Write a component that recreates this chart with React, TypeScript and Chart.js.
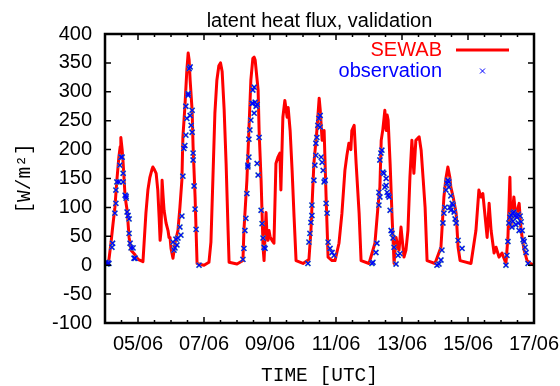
import { useEffect, useRef } from 'react';
import { Chart, registerables } from 'chart.js';

Chart.register(...registerables);

const TITLE = 'latent heat flux, validation';
const X_TITLE = 'TIME [UTC]';
const Y_TITLE = '[W/m²]';
const SERIES_MODEL = 'SEWAB';
const SERIES_OBS = 'observation';

// x axis: day of June
const X_MIN = 4;
const X_MAX = 17;
const xTickDays = [5, 7, 9, 11, 13, 15, 17];
const xTickLabels = ['05/06', '07/06', '09/06', '11/06', '13/06', '15/06', '17/06'];
const Y_MIN = -100;
const Y_MAX = 400;
const Y_STEP = 50;

// SEWAB model (day of June, W/m2)
const modelTime = [
  4.0, 4.06, 4.12, 4.18, 4.24, 4.3, 4.36, 4.42, 4.46, 4.48, 4.52, 4.55, 4.61, 4.67, 4.73, 4.79, 4.91,
  5.0, 5.15, 5.24, 5.3, 5.36, 5.42, 5.45, 5.5, 5.55, 5.6, 5.64, 5.67, 5.7, 5.73, 5.76, 5.79, 5.85, 5.91, 5.94, 5.97,
  6.0, 6.06, 6.12, 6.21, 6.27, 6.33, 6.36, 6.42, 6.48, 6.52, 6.55, 6.58, 6.64, 6.67, 6.73, 6.79,
  7.0, 7.15, 7.21, 7.27, 7.33, 7.39, 7.45, 7.5, 7.55, 7.61, 7.67, 7.73, 7.76,
  8.0, 8.18, 8.21, 8.3, 8.36, 8.42, 8.48, 8.52, 8.55, 8.64, 8.67, 8.73, 8.79, 8.82, 8.88, 8.91, 8.94, 8.97,
  9.0, 9.06, 9.12, 9.18, 9.24, 9.3, 9.33, 9.39, 9.45, 9.52, 9.55, 9.61, 9.67, 9.73, 9.79,
  10.0, 10.18, 10.24, 10.33, 10.42, 10.49, 10.52, 10.58, 10.64, 10.7, 10.76, 10.88, 10.97,
  11.09, 11.18, 11.27, 11.33, 11.39, 11.45, 11.48, 11.55, 11.61, 11.7, 11.76,
  12.0, 12.18, 12.27, 12.33, 12.37, 12.42, 12.48, 12.52, 12.55, 12.58, 12.64, 12.7, 12.76, 12.82, 12.88, 12.91, 12.97,
  13.06, 13.12, 13.18, 13.24, 13.3, 13.36, 13.42, 13.52, 13.58, 13.64, 13.7, 13.76,
  14.0, 14.18, 14.27, 14.33, 14.39, 14.45, 14.48, 14.55, 14.64, 14.7, 14.76,
  15.09, 15.24, 15.33, 15.39, 15.45, 15.52, 15.58, 15.64, 15.7, 15.79, 15.85, 15.94,
  16.03, 16.15, 16.21, 16.27, 16.3, 16.36, 16.39, 16.45, 16.52, 16.55, 16.61, 16.7, 16.79, 16.9, 17.0,
];
const modelFlux = [
  5, 3, 10, 38, 70, 100, 147, 187, 205, 221, 200, 176, 118, 95, 48, 26, 18,
  10, 6, 90, 130, 152, 165, 170, 165, 159, 130, 83, 43, 60, 147, 120, 95, 73, 60, 48, 48,
  29, 12, 38, 60, 100, 147, 221, 273, 337, 367, 355, 320, 268, 204, 118, 3,
  0, 5, 40, 150, 263, 320, 345, 350, 335, 270, 176, 60, 5,
  2, 8, 60, 147, 233, 320, 358, 360, 355, 303, 233, 147, 31, 8, 91, 50, 43, 60,
  50, 43, 38, 176, 187, 194, 130, 256, 285, 256, 273, 233, 164, 83, 8,
  3, 10, 60, 176, 233, 289, 270, 216, 233, 118, 14, 8, 8,
  38, 90, 164, 190, 211, 200, 233, 242, 176, 90, 8,
  3, 38, 100, 135, 216, 235, 268, 233, 260, 251, 176, 83, 3, 48, 30, 26, 66,
  14, 26, 60, 152, 216, 159, 216, 222, 199, 150, 100, 8,
  3, 31, 118, 150, 170, 152, 135, 118, 90, 31, 8,
  3, 60, 130, 118, 124, 83, 48, 107, 60, 21, 31, 14,
  21, 3, 48, 152, 66, 100, 118, 83, 100, 107, 60, 26, 8, 3, 0,
];

// observations (day of June, W/m2)
const obsTime = [
  4.03, 4.06, 4.09, 4.12, 4.21, 4.23, 4.3, 4.33, 4.33, 4.36, 4.42, 4.45, 4.48, 4.52, 4.55, 4.55, 4.61, 4.64, 4.64, 4.67, 4.7, 4.73, 4.73, 4.76, 4.79, 4.85, 4.88, 4.91,
  6.06, 6.09, 6.12, 6.15, 6.18, 6.21, 6.27, 6.3, 6.33, 6.36, 6.39, 6.42, 6.45, 6.45, 6.48, 6.52, 6.52, 6.55, 6.58, 6.58, 6.61, 6.64, 6.64, 6.67, 6.67, 6.7, 6.73, 6.76, 6.85,
  8.18, 8.21, 8.24, 8.27, 8.3, 8.33, 8.33, 8.36, 8.36, 8.39, 8.42, 8.45, 8.48, 8.52, 8.48, 8.52, 8.55, 8.58, 8.61, 8.61, 8.64, 8.67, 8.73, 8.76, 8.79, 8.82, 8.85,
  10.15, 10.18, 10.21, 10.24, 10.27, 10.27, 10.33, 10.36, 10.39, 10.39, 10.42, 10.45, 10.48, 10.52, 10.52, 10.55, 10.58, 10.61, 10.64, 10.67, 10.7, 10.73, 10.76, 10.82, 10.88, 10.94,
  12.09, 12.12, 12.21, 12.24, 12.3, 12.3, 12.33, 12.33, 12.36, 12.39, 12.42, 12.45, 12.48, 12.52, 12.52, 12.55, 12.58, 12.61, 12.64, 12.67, 12.7, 12.73, 12.76, 12.82, 12.88, 12.94,
  14.06, 14.12, 14.18, 14.21, 14.24, 14.27, 14.3, 14.33, 14.36, 14.39, 14.42, 14.42, 14.45, 14.48, 14.48, 14.52, 14.55, 14.58, 14.61, 14.64, 14.7, 14.82,
  16.15, 16.18, 16.21, 16.24, 16.27, 16.3, 16.33, 16.36, 16.36, 16.39, 16.42, 16.45, 16.48, 16.52, 16.52, 16.55, 16.58, 16.61, 16.64, 16.67, 16.7, 16.73, 16.76, 16.82,
];
const obsFlux = [
  5, 2, 4, 3, 31, 38, 90, 107, 130, 144, 144, 173, 187, 187, 159, 144, 121, 116, 119, 92, 86, 80, 55, 38, 30, 30, 12, 12,
  40, 26, 30, 45, 35, 47, 66, 52, 85, 154, 202, 207, 225, 275, 254, 294, 297, 340, 343, 259, 242, 268, 230, 194, 182, 137, 97, 62, 0,
  10, 29, 60, 81, 124, 170, 173, 187, 218, 234, 251, 280, 303, 308, 280, 263, 282, 275, 278, 176, 156, 221, 95, 72, 47, 31, 29,
  3, 40, 55, 74, 86, 104, 147, 173, 190, 211, 221, 242, 254, 259, 239, 187, 178, 164, 144, 147, 107, 90, 40, 29, 22, 17,
  3, 5, 22, 38, 104, 126, 118, 182, 194, 199, 161, 159, 135, 150, 138, 126, 121, 118, 95, 60, 55, 47, 31, 2, 17, 20,
  0, 2, 9, 26, 73, 90, 100, 130, 142, 147, 144, 135, 100, 120, 95, 107, 104, 92, 80, 73, 43, 29,
  0, 17, 41, 73, 83, 87, 66, 90, 76, 92, 85, 70, 83, 73, 88, 60, 85, 75, 60, 44, 41, 31, 22, 3,
];

const SANS = '"Liberation Sans", Arial, Helvetica, sans-serif';
const MONO = '"Liberation Mono", "Courier New", monospace';

const isMajorX = (v: number) => xTickDays.some((d) => Math.abs(d - v) < 1e-6);

const frameTicks = {
  id: 'frameTicks',
  afterDatasetsDraw(chart: any) {
    const { ctx, chartArea: a, scales } = chart;
    const xs = scales.x;
    const ys = scales.y;
    ctx.save();
    ctx.strokeStyle = '#000';
    ctx.lineWidth = 1.5;
    ctx.beginPath();
    xs.ticks.forEach((t: any) => {
      const px = xs.getPixelForValue(t.value);
      const len = isMajorX(t.value) ? 6 : 3;
      ctx.moveTo(px, a.bottom);
      ctx.lineTo(px, a.bottom - len);
      ctx.moveTo(px, a.top);
      ctx.lineTo(px, a.top + len);
    });
    ys.ticks.forEach((t: any) => {
      const py = ys.getPixelForValue(t.value);
      ctx.moveTo(a.left, py);
      ctx.lineTo(a.left + 6, py);
      ctx.moveTo(a.right, py);
      ctx.lineTo(a.right - 6, py);
    });
    ctx.stroke();
    ctx.lineWidth = 2.5;
    ctx.strokeRect(a.left, a.top, a.right - a.left, a.bottom - a.top);
    ctx.restore();
  },
};

const titleAndLegend = {
  id: 'titleAndLegend',
  afterDraw(chart: any) {
    const { ctx, chartArea: a } = chart;
    ctx.save();
    ctx.font = `20px ${SANS}`;
    ctx.fillStyle = '#000';
    ctx.textAlign = 'center';
    ctx.textBaseline = 'alphabetic';
    ctx.fillText(TITLE, (a.left + a.right) / 2, 27);

    const items = chart.data.datasets.filter((d: any) => d.label);
    ctx.textAlign = 'right';
    ctx.textBaseline = 'middle';
    items.forEach((d: any, i: number) => {
      const yy = a.top + 16 + i * 21;
      const textRight = a.right - 92;
      ctx.fillStyle = d.borderColor;
      ctx.fillText(d.label, textRight, yy);
      const sx = textRight + 14;
      const ex = textRight + 67;
      ctx.strokeStyle = d.borderColor;
      if (d.showLine === false) {
        const cx = (sx + ex) / 2;
        const r = 2.5;
        ctx.lineWidth = 1;
        ctx.beginPath();
        ctx.moveTo(cx - r, yy - r);
        ctx.lineTo(cx + r, yy + r);
        ctx.moveTo(cx - r, yy + r);
        ctx.lineTo(cx + r, yy - r);
        ctx.stroke();
      } else {
        ctx.lineWidth = d.borderWidth;
        ctx.beginPath();
        ctx.moveTo(sx, yy);
        ctx.lineTo(ex, yy);
        ctx.stroke();
      }
    });
    ctx.restore();
  },
};

const whiteBg = {
  id: 'whiteBg',
  beforeDraw(chart: any) {
    const { ctx, width, height } = chart;
    ctx.save();
    ctx.fillStyle = '#fff';
    ctx.fillRect(0, 0, width, height);
    ctx.restore();
  },
};

export default function App() {
  const ref = useRef<HTMLCanvasElement | null>(null);

  useEffect(() => {
    if (!ref.current) return;
    const modelPts = modelTime.map((t, i) => ({ x: t, y: modelFlux[i] }));
    const obsPts = obsTime.map((t, i) => ({ x: t, y: obsFlux[i] }));
    const chart = new Chart(ref.current, {
      type: 'scatter',
      data: {
        datasets: [
          {
            label: SERIES_MODEL,
            data: modelPts,
            showLine: true,
            borderColor: '#ff0000',
            backgroundColor: '#ff0000',
            borderWidth: 3,
            borderJoinStyle: 'round',
            borderCapStyle: 'round',
            pointRadius: 0,
            tension: 0,
            order: 3,
          },
          {
            label: '',
            data: obsPts,
            showLine: false,
            pointStyle: 'crossRot',
            pointRadius: 3.5,
            borderColor: 'rgba(110,205,110,0.7)',
            borderWidth: 2,
            order: 2,
          },
          {
            label: SERIES_OBS,
            data: obsPts,
            showLine: false,
            pointStyle: 'crossRot',
            pointRadius: 3.5,
            borderColor: '#0000ff',
            backgroundColor: '#0000ff',
            borderWidth: 1.2,
            order: 1,
          },
        ],
      } as any,
      options: {
        responsive: false,
        animation: false,
        devicePixelRatio: 1,
        layout: { padding: { top: 34, left: 0, right: 0, bottom: 0 } },
        plugins: {
          legend: { display: false },
          tooltip: { enabled: false },
          title: { display: false },
        },
        scales: {
          x: {
            type: 'linear',
            min: X_MIN,
            max: X_MAX,
            grid: { display: false, drawTicks: false },
            border: { display: false },
            ticks: {
              stepSize: 0.5,
              autoSkip: false,
              maxRotation: 0,
              minRotation: 0,
              padding: 9.5,
              color: '#000',
              font: { family: SANS, size: 20, lineHeight: 1.2 },
              callback: (v: any) => {
                const i = xTickDays.findIndex((d) => Math.abs(d - Number(v)) < 1e-6);
                return i >= 0 ? xTickLabels[i] : '';
              },
            },
            title: {
              display: true,
              text: X_TITLE,
              color: '#000',
              font: { family: MONO, size: 19.5, lineHeight: 1 },
              padding: { top: 0, bottom: 0 },
            },
            afterFit: (s: any) => {
              s.height = 63;
              s.paddingRight = 26;
              s.paddingLeft = 0;
            },
          },
          y: {
            type: 'linear',
            min: Y_MIN,
            max: Y_MAX,
            grid: { display: false, drawTicks: false },
            border: { display: false },
            ticks: {
              stepSize: Y_STEP,
              padding: 13,
              color: '#000',
              font: { family: SANS, size: 20, lineHeight: 1.2 },
            },
            title: {
              display: true,
              text: Y_TITLE,
              color: '#000',
              font: { family: MONO, size: 19.5, lineHeight: 1 },
              padding: { top: 15, bottom: 0 },
            },
            afterFit: (s: any) => {
              s.width = 105;
            },
          },
        },
      } as any,
      plugins: [whiteBg, frameTicks, titleAndLegend],
    });
    return () => chart.destroy();
  }, []);

  return (
    <div style={{ position: 'fixed', left: 0, top: 0, width: 560, height: 386, background: '#fff' }}>
      <canvas ref={ref} width={560} height={386} style={{ display: 'block' }} />
    </div>
  );
}
